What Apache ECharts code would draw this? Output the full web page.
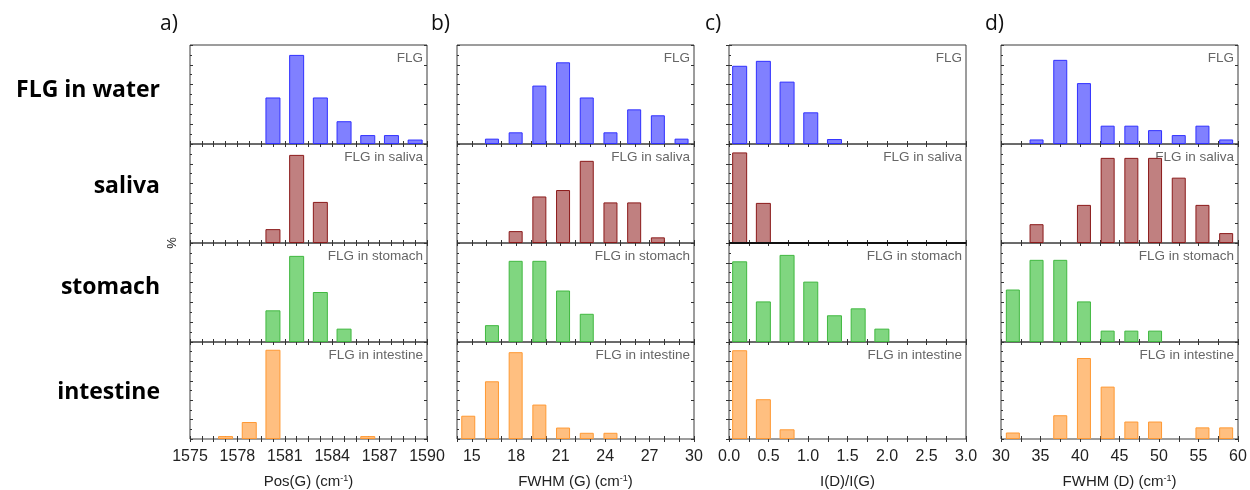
<!DOCTYPE html>
<html><head><meta charset="utf-8">
<script src="https://cdn.jsdelivr.net/npm/echarts@6/dist/echarts.min.js"></script>
<style>html,body{margin:0;padding:0;background:#fff}#c{width:1250px;height:490px}</style>
</head><body><div id="c"></div><script>
// ---------- data ----------
const rowNames = ['FLG in water', 'saliva', 'stomach', 'intestine'];
const panelTags = ['FLG', 'FLG in saliva', 'FLG in stomach', 'FLG in intestine'];
const panelLetters = ['a)', 'b)', 'c)', 'd)'];
const axisNames = ['Pos(G) (cm{s|-1})', 'FWHM (G) (cm{s|-1})', 'I(D)/I(G)', 'FWHM (D) (cm{s|-1})'];

const posG_bins = [1577.25, 1578.75, 1580.25, 1581.75, 1583.25, 1584.75, 1586.25, 1587.75, 1589.25];
const posG_water     = [0, 0, 47, 90, 47, 23, 9, 9, 4.5];
const posG_saliva    = [0, 0, 14, 89, 41.5, 0, 0, 0, 0];
const posG_stomach   = [0, 0, 32, 87, 50.5, 13.5, 0, 0, 0];
const posG_intestine = [3, 17.5, 92, 0, 0, 0, 3, 0, 0];
const posG_ticks = [1575, 1578, 1581, 1584, 1587, 1590];

const fwhmG_bins = [14.76, 16.36, 17.96, 19.56, 21.16, 22.76, 24.36, 25.96, 27.56, 29.16];
const fwhmG_water     = [0, 5.4, 11.8, 59, 82.5, 47, 11.8, 35, 29, 5.4];
const fwhmG_saliva    = [0, 0, 12, 47, 53.5, 83, 41, 41, 5.7, 0];
const fwhmG_stomach   = [0, 17, 82, 82, 52, 28.5, 0, 0, 0, 0];
const fwhmG_intestine = [24, 59.5, 89.5, 35.5, 11.8, 6.4, 6.4, 0, 0, 0];
const fwhmG_ticks = [15, 18, 21, 24, 27, 30];

const ratio_bins = [0.135, 0.435, 0.735, 1.035, 1.335, 1.635, 1.935];
const ratio_water     = [79, 84, 63, 32, 5, 0, 0];
const ratio_saliva    = [91.5, 40.5, 0, 0, 0, 0, 0];
const ratio_stomach   = [81.5, 41, 88, 61, 27, 34, 13.5];
const ratio_intestine = [91.5, 41, 10, 0, 0, 0, 0];
const ratio_ticks = [0, 0.5, 1, 1.5, 2, 2.5, 3];

const fwhmD_bins = [31.5, 34.5, 37.5, 40.5, 43.5, 46.5, 49.5, 52.5, 55.5, 58.5];
const fwhmD_water     = [0, 4.6, 85, 61.5, 18.5, 18.5, 14, 9, 18.5, 4.6];
const fwhmD_saliva    = [0, 19, 0, 38.5, 86, 86, 86, 66, 38.5, 10];
const fwhmD_stomach   = [53, 83, 83, 41, 11.5, 11.5, 11.5, 0, 0, 0];
const fwhmD_intestine = [6.7, 0, 24.5, 83.5, 54, 18, 18, 0, 12, 12];
const fwhmD_ticks = [30, 35, 40, 45, 50, 55, 60];

// ---------- styling / layout ----------
const colFill = ['#8080ff', '#c08080', '#80d680', '#ffbf80'];
const colEdge = ['#3030ff', '#8b1a1a', '#40b840', '#ff9933'];
const lefts = [190, 457, 729, 1001];
const W = 237;
const tops = [45, 144, 243, 342];
const H = 99;
const letterX = [160, 431, 705, 985];
const rowLabelY = [90, 186, 287, 392];

const cols = [
  {bins: posG_bins, vals: [posG_water, posG_saliva, posG_stomach, posG_intestine], ticks: posG_ticks, min: 1575, max: 1590, step: 0.75, dec: 0, bw: 15},
  {bins: fwhmG_bins, vals: [fwhmG_water, fwhmG_saliva, fwhmG_stomach, fwhmG_intestine], ticks: fwhmG_ticks, min: 14, max: 30, step: 1, dec: 0, bw: 14},
  {bins: ratio_bins, vals: [ratio_water, ratio_saliva, ratio_stomach, ratio_intestine], ticks: ratio_ticks, min: 0, max: 3, step: 0.25, dec: 1, bw: 15},
  {bins: fwhmD_bins, vals: [fwhmD_water, fwhmD_saliva, fwhmD_stomach, fwhmD_intestine], ticks: fwhmD_ticks, min: 30, max: 60, step: 2.5, dec: 0, bw: 14}
];

const grid = [], xAxis = [], yAxis = [], series = [], graphic = [];
const tickStyle = {color: '#333', width: 1};
cols.forEach((col, c) => {
  for (let r = 0; r < 4; r++) {
    const gi = grid.length;
    grid.push({left: lefts[c], top: tops[r], width: W, height: H, show: true,
      borderColor: '#3a3a3a', borderWidth: 1, backgroundColor: 'transparent'});
    xAxis.push({type: 'value', gridIndex: gi, min: col.min, max: col.max, interval: col.step,
      position: 'bottom', axisLine: {show: false},
      axisTick: {show: true, inside: true, length: 3, lineStyle: tickStyle},
      splitLine: {show: false},
      axisLabel: {show: r === 3, customValues: col.ticks, margin: 10,
        formatter: v => Number(v).toFixed(col.dec), fontSize: 16, color: '#222',
        fontFamily: 'Liberation Sans'},
      name: r === 3 ? axisNames[c] : '', nameLocation: 'middle', nameGap: 35,
      nameTextStyle: {fontSize: 15, color: '#222', fontFamily: 'Liberation Sans',
        rich: {s: {fontSize: 9, verticalAlign: 'top', color: '#222', fontFamily: 'Liberation Sans'}}}
    });
    xAxis.push({type: 'value', gridIndex: gi, min: col.min, max: col.max, interval: col.step,
      position: 'top', axisLine: {show: false},
      axisTick: {show: true, inside: true, length: 3, lineStyle: tickStyle},
      splitLine: {show: false}, axisLabel: {show: false}});
    yAxis.push({type: 'value', gridIndex: gi, min: 0, max: 100, interval: 20, position: 'left',
      axisLine: {show: false}, axisTick: {show: true, inside: true, length: 3, lineStyle: tickStyle},
      minorTick: {show: true, splitNumber: 2, length: 2, lineStyle: tickStyle},
      splitLine: {show: false}, axisLabel: {show: false}});
    yAxis.push({type: 'value', gridIndex: gi, min: 0, max: 100, interval: 20, position: 'right',
      axisLine: {show: false}, axisTick: {show: true, inside: true, length: 3, lineStyle: tickStyle},
      splitLine: {show: false}, axisLabel: {show: false}});
    series.push({type: 'bar', xAxisIndex: 2 * gi, yAxisIndex: 2 * gi, barWidth: col.bw, z: 3,
      silent: true, animation: false,
      itemStyle: {color: colFill[r], borderColor: colEdge[r], borderWidth: 1},
      data: col.bins.map((b, i) => [b, col.vals[r][i]]).filter(d => d[1] > 0)});
    graphic.push({type: 'text', x: lefts[c] + W - 4, y: tops[r] + 6, z: 1,
      style: {text: panelTags[r], fill: '#666', fontSize: 13.5,
        fontFamily: 'Liberation Sans', align: 'right'}});
  }
  graphic.push({type: 'text', x: letterX[c], y: 14,
    style: {text: panelLetters[c], fill: '#111', fontSize: 21, fontFamily: 'Open Sans'}});
});
rowNames.forEach((n, r) => {
  graphic.push({type: 'text', x: 160, y: rowLabelY[r],
    style: {text: n, fill: '#000', fontSize: 23, fontWeight: 'bold', fontFamily: 'Open Sans',
      align: 'right', verticalAlign: 'middle'}});
});
graphic.push({type: 'text', x: 172, y: 243, rotation: Math.PI / 2,
  style: {text: '%', fill: '#222', fontSize: 13, fontFamily: 'Liberation Sans',
    align: 'center', verticalAlign: 'middle'}});
graphic.push({type: 'line', z: 10, shape: {x1: lefts[2], y1: tops[2], x2: lefts[2] + W, y2: tops[2]},
  style: {stroke: '#111', lineWidth: 2}});

const chart = echarts.init(document.getElementById('c'), null, {renderer: 'canvas'});
chart.setOption({animation: false, grid, xAxis, yAxis, series, graphic});
</script></body></html>
